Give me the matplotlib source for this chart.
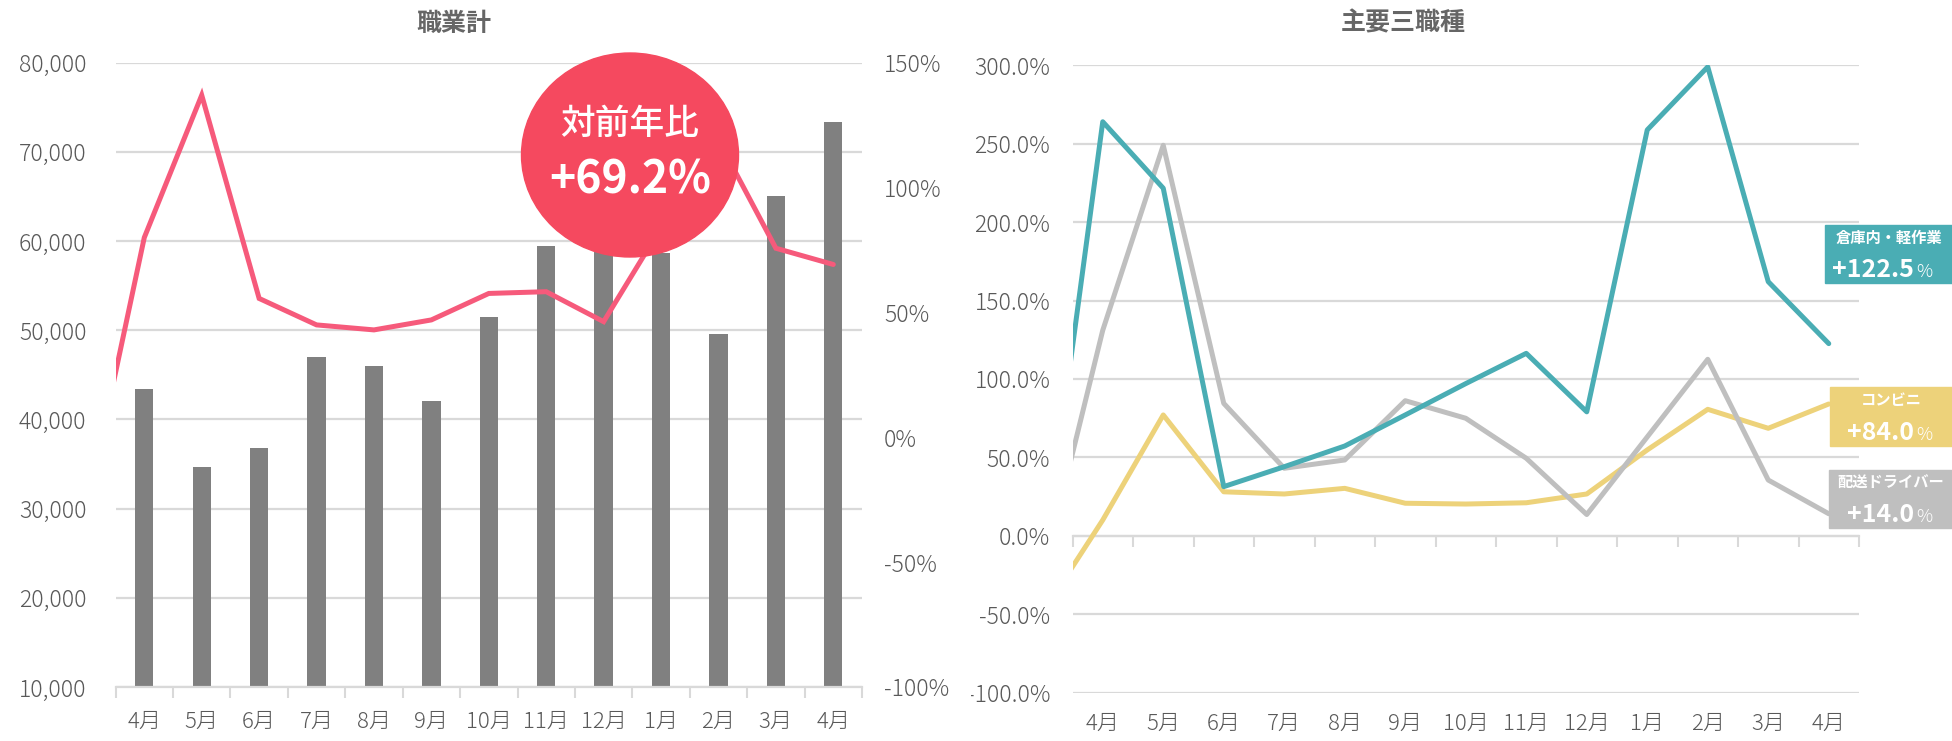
import numpy as np
import matplotlib
matplotlib.use('Agg')
from matplotlib import pyplot as plt
from matplotlib.patches import Ellipse, Rectangle
from matplotlib.transforms import Bbox, TransformedBbox

plt.rcParams['font.family'] = ['Noto Sans CJK JP', 'DejaVu Sans']

# データ
months = ['4月', '5月', '6月', '7月', '8月', '9月', '10月', '11月', '12月', '1月', '2月', '3月', '4月']
# 職業計（件数）
total_jobs = [43400, 34700, 36800, 47000, 46000, 42100, 51500, 59500, 60500, 58700, 49600, 65100, 73400]
# 対前年比（%）  先頭は前月（グラフ左外）
total_yoy_prev = -28
total_yoy = [80, 137, 55.6, 45, 43, 47, 57.6, 58.3, 46.3, 84, 119, 75.7, 69.2]

# 主要三職種（%） 先頭は前月
warehouse_prev = -23
warehouse = [264, 221.6, 31.3, 44, 57.2, 77, 97, 116.3, 79, 258.8, 299, 162, 122.5]
konbini_prev = -49.6
konbini = [10, 77, 28, 26.6, 30.2, 20.7, 20.2, 21, 26.6, 54.7, 80.6, 68.5, 84.0]
driver_prev = -26
driver = [131, 249, 84.4, 43, 48.3, 86.1, 74.9, 49.4, 13.5, 63, 112.5, 35.5, 14.0]

W, H = 1952, 741
GRID = '#D9D9D9'
TXT = '#595959'

fig = plt.figure(figsize=(W / 100, H / 100), dpi=100)

x = np.arange(len(months))
x_ext = np.arange(-1, len(months))

# ---- 左：職業計 ----
ax1 = fig.add_axes([115.6 / W, (H - 687) / H, 746.4 / W, 624.3 / H])
ax1.set_axisbelow(True)
ax1.bar(x, total_jobs, width=0.32, color='#808080', zorder=2)
ax1.set_ylim(10000, 80000)
ax1.set_xlim(-0.5, 12.5)
ax1.set_yticks(np.arange(10000, 80001, 10000))
ax1.set_yticklabels([f'{v:,}' for v in range(10000, 80001, 10000)], fontweight='light')
ax1.grid(axis='y', color=GRID, lw=1.6)
ax1.set_xticks(x, months, fontweight='light')
ax1.set_xticks(np.arange(-0.5, 13, 1), minor=True)
ax1.tick_params(axis='x', which='major', length=0, pad=17, labelsize=16, labelcolor=TXT)
ax1.tick_params(axis='x', which='minor', length=8, width=1.5, color=GRID)
ax1.tick_params(axis='y', length=0, pad=21, labelsize=16.5, labelcolor=TXT)
for s in ['top', 'left', 'right']:
    ax1.spines[s].set_visible(False)
ax1.spines['bottom'].set_color(GRID)
ax1.spines['bottom'].set_linewidth(1.6)

ax1b = ax1.twinx()
ax1b.plot(x_ext, [total_yoy_prev] + total_yoy, color='#F65A7B', lw=3.6,
          solid_capstyle='round', solid_joinstyle='miter', zorder=3)
ax1b.set_ylim(-100, 150)
ax1b.set_xlim(-0.5, 12.5)
ax1b.set_yticks(np.arange(-100, 151, 50))
ax1b.set_yticklabels(['-100%', '-50%', '0%', '50%', '100%', '150%'], fontweight='light')
ax1b.tick_params(axis='y', length=0, pad=16, labelsize=16.5, labelcolor=TXT)
for s in ax1b.spines.values():
    s.set_visible(False)

fig.text(454 / W, 1 - 24 / H, '職業計', ha='center', va='center',
         fontsize=18, fontweight='bold', color='#666666')

# 吹き出し
fig.add_artist(Ellipse((630 / W, 1 - 155 / H), 217 / W, 204 / H,
                       transform=fig.transFigure, color='#F5495F', zorder=5))
fig.text(630 / W, 1 - 124 / H, '対前年比', ha='center', va='center',
         fontsize=25, color='white', fontweight='medium', zorder=6)
fig.text(630 / W, 1 - 181 / H, '+69.2%', ha='center', va='center',
         fontsize=32, color='white', fontweight='bold', zorder=6)

# ---- 右：主要三職種 ----
ax2 = fig.add_axes([1072.5 / W, (H - 692.5) / H, 786.5 / W, 627.2 / H])
ax2.set_axisbelow(True)
ax2.plot(x_ext, [konbini_prev] + konbini, color='#EDD27A', lw=3.6,
         solid_capstyle='round', zorder=3)
ax2.plot(x_ext, [driver_prev] + driver, color='#BFBFBF', lw=3.6,
         solid_capstyle='round', zorder=4)
ax2.plot(x_ext, [warehouse_prev] + warehouse, color='#4AADB4', lw=3.6,
         solid_capstyle='round', zorder=5)
ax2.set_xlim(-0.5, 12.5)
ax2.set_ylim(-100, 300)
ax2.set_yticks(np.arange(-100, 301, 50))
ax2.set_yticklabels([f'{v:.1f}%' for v in np.arange(-100, 301, 50)], fontweight='light')
ax2.grid(axis='y', color=GRID, lw=1.6)
ax2.set_xticks(x, months, fontweight='light')
ax2.tick_params(axis='x', length=0, pad=15, labelsize=16, labelcolor=TXT)
ax2.tick_params(axis='y', length=0, pad=16, labelsize=16.5, labelcolor=TXT)
for s in ax2.spines.values():
    s.set_visible(False)

# 0% の位置の目盛り
sec = ax2.secondary_xaxis(0.25)
sec.set_xticks(np.arange(-0.5, 13, 1))
sec.set_xticklabels([])
sec.tick_params(axis='x', length=8, width=1.5, color=GRID)
sec.spines['bottom'].set_color(GRID)
sec.spines['bottom'].set_linewidth(1.6)

# 左端で切れるラベル
clip = TransformedBbox(Bbox([[971 / W, 0], [1, 1]]), fig.transFigure)
for lbl in ax2.get_yticklabels():
    lbl.set_clip_box(clip)
    lbl.set_clip_on(True)

fig.text(1403 / W, 1 - 23 / H, '主要三職種', ha='center', va='center',
         fontsize=18, fontweight='bold', color='#666666')

# 右側のラベル
boxes = [
    ('倉庫内・軽作業', '+122.5', '#4AADB4', 225, 283, 1825),
    ('コンビニ', '+84.0', '#EDD27A', 387, 446, 1830),
    ('配送ドライバー', '+14.0', '#BFBFBF', 470, 528, 1829),
]
for name, val, col, y0, y1, x0 in boxes:
    fig.add_artist(Rectangle((x0 / W, 1 - y1 / H), (W - x0) / W, (y1 - y0) / H,
                             transform=fig.transFigure, color=col, zorder=5))
    cx = (x0 + W) / 2
    fig.text(cx / W, 1 - (y0 + 13) / H, name, ha='center', va='center',
             fontsize=11, color='white', fontweight='bold', zorder=6)
    fig.text(1914 / W, 1 - (y1 - 6) / H, val, ha='right', va='baseline',
             fontsize=18, color='white', fontweight='bold', zorder=6)
    fig.text(1916 / W, 1 - (y1 - 6) / H, '%', ha='left', va='baseline',
             fontsize=13, color='white', fontweight='light', zorder=6)

fig.savefig('out.png', dpi=100, facecolor='white')
